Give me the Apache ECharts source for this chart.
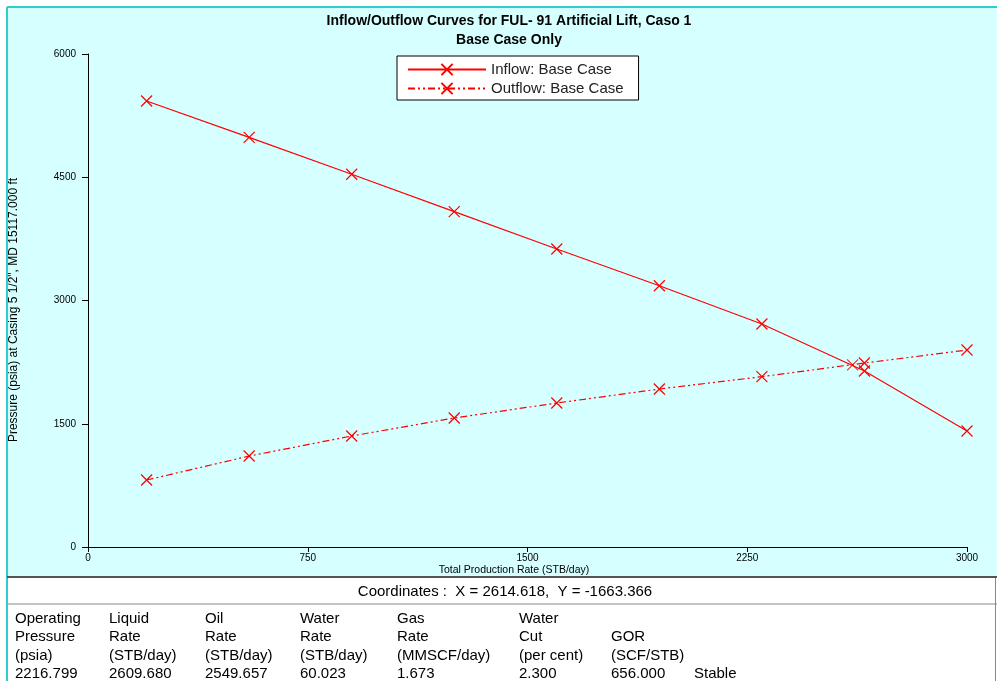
<!DOCTYPE html>
<html>
<head>
<meta charset="utf-8">
<script src="https://cdn.jsdelivr.net/npm/echarts@6/dist/echarts.min.js"></script>
<style>
html,body{margin:0;padding:0;background:#fff;}
#chart{width:997px;height:681px;}
</style>
</head>
<body>
<div id="chart"></div>
<script>
// ---- data ----
var rates = [200, 550, 900, 1250, 1600, 1950, 2300, 2650, 3000];
var inflowPressure = [5428, 4986, 4536, 4081, 3627, 3180, 2714, 2142, 1412];
var outflowPressure = [815, 1107, 1351, 1570, 1752, 1923, 2073, 2239, 2397];
var operatingPoint = [2609.68, 2216.799];
var xTicks = [0, 750, 1500, 2250, 3000];
var yTicks = [0, 1500, 3000, 4500, 6000];
var seriesNames = ['Inflow: Base Case', 'Outflow: Base Case'];
var titleLines = ['Inflow/Outflow Curves for FUL- 91 Artificial Lift, Caso 1', 'Base Case Only'];
var xAxisName = 'Total Production Rate (STB/day)';
var yAxisName = 'Pressure (psia) at Casing 5 1/2", MD 15117.000 ft';
var coordText = 'Coordinates :  X = 2614.618,  Y = -1663.366';
var tableCols = [
  ['Operating', 'Pressure', '(psia)', '2216.799'],
  ['Liquid', 'Rate', '(STB/day)', '2609.680'],
  ['Oil', 'Rate', '(STB/day)', '2549.657'],
  ['Water', 'Rate', '(STB/day)', '60.023'],
  ['Gas', 'Rate', '(MMSCF/day)', '1.673'],
  ['Water', 'Cut', '(per cent)', '2.300'],
  ['', 'GOR', '(SCF/STB)', '656.000'],
  ['', '', '', 'Stable']
];

// ---- layout / style ----
var colX = [15, 109, 205, 300, 397, 519, 611, 694];
var rowY = [619, 637, 656, 674];
var RED = '#ff0000';
var XSYM = 'path://M0,0L10,10M10,0L0,10';
var FONT = '"Liberation Sans", Arial, sans-serif';

function pairs(xs, ys) { return xs.map(function (x, i) { return [x, ys[i]]; }); }

var graphics = [
  { type: 'rect', shape: { x: 0, y: 0, width: 997, height: 681 }, style: { fill: '#ffffff' }, z: -10, silent: true },
  { type: 'rect', shape: { x: 7, y: 7, width: 990, height: 570 }, style: { fill: '#d6ffff' }, z: -9, silent: true },
  { type: 'line', shape: { x1: 7, y1: 7, x2: 997, y2: 7 }, style: { stroke: '#33cccc', lineWidth: 2 }, z: 5 },
  { type: 'line', shape: { x1: 7, y1: 7, x2: 7, y2: 681 }, style: { stroke: '#33cccc', lineWidth: 2 }, z: 5 },
  { type: 'line', shape: { x1: 7, y1: 577, x2: 997, y2: 577 }, style: { stroke: '#555555', lineWidth: 2 }, z: 5 },
  { type: 'line', shape: { x1: 8, y1: 604, x2: 997, y2: 604 }, style: { stroke: '#888888', lineWidth: 1 }, z: 5 },
  { type: 'line', shape: { x1: 995.5, y1: 578, x2: 995.5, y2: 681 }, style: { stroke: '#888888', lineWidth: 1 }, z: 5 },
  { type: 'text', x: 505, y: 592, style: { text: coordText, fill: '#000', font: '15px ' + FONT, textAlign: 'center', textVerticalAlign: 'middle' } },
  { type: 'text', x: 514, y: 570, style: { text: xAxisName, fill: '#000', font: '10.5px ' + FONT, textAlign: 'center', textVerticalAlign: 'middle' } },
  { type: 'text', x: 14, y: 310, rotation: Math.PI / 2, style: { text: yAxisName, fill: '#000', font: '12px ' + FONT, textAlign: 'center', textVerticalAlign: 'middle' } }
];
tableCols.forEach(function (col, ci) {
  col.forEach(function (txt, ri) {
    if (!txt) return;
    graphics.push({ type: 'text', x: colX[ci], y: rowY[ri], style: { text: txt, fill: '#000', font: '15px ' + FONT, textAlign: 'left', textVerticalAlign: 'middle' } });
  });
});

var chart = echarts.init(document.getElementById('chart'), null, { renderer: 'canvas' });
chart.setOption({
  animation: false,
  backgroundColor: 'transparent',
  title: {
    text: titleLines.join('\n'),
    left: 504, top: 7, textAlign: 'center',
    textStyle: { fontFamily: FONT, fontSize: 14, fontWeight: 'bold', color: '#000', lineHeight: 19 }
  },
  legend: {
    data: seriesNames,
    orient: 'vertical',
    left: 397, top: 56,
    padding: [6, 15, 4, 10],
    itemGap: 4,
    itemWidth: 78, itemHeight: 14,
    backgroundColor: '#ffffff',
    borderColor: '#000000', borderWidth: 1, borderRadius: 0,
    textStyle: { fontFamily: FONT, fontSize: 15, color: '#222' }
  },
  grid: { left: 88, right: 30, top: 54, bottom: 134, containLabel: false },
  xAxis: {
    type: 'value', min: xTicks[0], max: xTicks[xTicks.length - 1], interval: xTicks[1] - xTicks[0],
    axisLine: { onZero: false, lineStyle: { color: '#000', width: 1 } },
    axisTick: { show: true, length: 5, inside: false, lineStyle: { color: '#000' } },
    axisLabel: { fontSize: 10, color: '#000', margin: 6, fontFamily: FONT, formatter: function (v) { return String(v); } },
    splitLine: { show: false }
  },
  yAxis: {
    type: 'value', min: yTicks[0], max: yTicks[yTicks.length - 1], interval: yTicks[1] - yTicks[0],
    axisLine: { show: true, onZero: false, lineStyle: { color: '#000', width: 1 } },
    axisTick: { show: true, length: 6, inside: false, lineStyle: { color: '#000' } },
    axisLabel: { fontSize: 10, color: '#000', margin: 12, fontFamily: FONT, formatter: function (v) { return String(v); } },
    splitLine: { show: false }
  },
  series: [
    {
      name: seriesNames[0], type: 'line', data: pairs(rates, inflowPressure),
      symbol: XSYM, symbolSize: 11, showSymbol: true,
      lineStyle: { color: RED, width: 1.2, type: 'solid' },
      itemStyle: { color: RED, borderColor: RED, borderWidth: 1.2 }
    },
    {
      name: seriesNames[1], type: 'line', data: pairs(rates, outflowPressure),
      symbol: XSYM, symbolSize: 11, showSymbol: true,
      lineStyle: { color: RED, width: 1.2, type: [7, 3, 2, 3, 2, 3] },
      itemStyle: { color: RED, borderColor: RED, borderWidth: 1.2 }
    },
    {
      name: 'Operating Point', type: 'scatter', data: [operatingPoint],
      symbol: XSYM, symbolSize: 11,
      itemStyle: { color: RED, borderColor: RED, borderWidth: 1.2 }
    }
  ],
  graphic: graphics
});
</script>
</body>
</html>
